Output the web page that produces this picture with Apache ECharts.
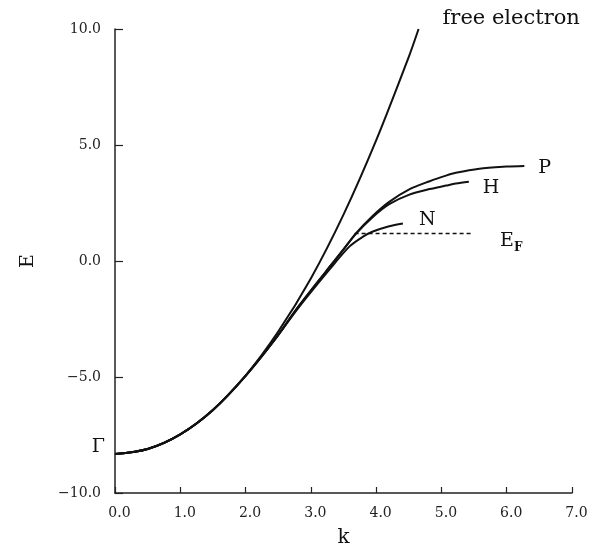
<!DOCTYPE html>
<html>
<head>
<meta charset="utf-8">
<script src="https://cdn.jsdelivr.net/npm/echarts@6/dist/echarts.min.js"></script>
<style>
  html, body { margin: 0; padding: 0; background: #fff; }
  #chart { width: 597px; height: 547px; }
</style>
</head>
<body>
<div id="chart"></div>
<script>
// Free-electron parabola E(k)
const freeK = [0, 0.5, 1.0, 1.5, 2.0, 2.5, 3.0, 3.5, 4.0, 4.5, 4.65];
const freeE = [-8.32, -8.1, -7.47, -6.42, -4.94, -3.04, -0.75, 2.0, 5.2, 8.8, 10.0];

// Band toward P
const pK = [0, 0.5, 1.0, 1.5, 2.0, 2.45, 2.8, 3.24, 3.5, 3.69, 3.95, 4.2, 4.5, 4.82, 5.07, 5.22, 5.58, 6.0, 6.27];
const pE = [-8.32, -8.1, -7.47, -6.42, -4.95, -3.38, -2.0, -0.42, 0.5, 1.19, 1.95, 2.55, 3.08, 3.44, 3.68, 3.8, 3.98, 4.07, 4.1];

// Band toward H
const hK = [0, 0.5, 1.0, 1.5, 2.0, 2.45, 2.8, 3.24, 3.5, 3.69, 3.95, 4.2, 4.5, 4.82, 5.07, 5.22, 5.42];
const hE = [-8.32, -8.1, -7.47, -6.42, -4.95, -3.38, -2.0, -0.42, 0.5, 1.17, 1.9, 2.45, 2.85, 3.1, 3.25, 3.34, 3.42];

// Band toward N
const nK = [0, 0.5, 1.0, 1.5, 2.0, 2.45, 2.8, 3.29, 3.59, 3.8, 3.95, 4.2, 4.41];
const nE = [-8.32, -8.1, -7.47, -6.42, -4.95, -3.38, -2.05, -0.35, 0.62, 1.05, 1.27, 1.5, 1.62];

// Fermi level
const fermiK = [3.67, 5.47];
const fermiE = [1.19, 1.19];

const xTicks = [0, 7, 1];   // min, max, interval
const yTicks = [-10, 10, 5];

const pairs = (ks, es) => ks.map((k, i) => [k, es[i]]);
const serif = 'DejaVu Serif';
const fmt = v => v.toFixed(1).replace('-', '\u2212');

const curve = (name, ks, es, label, offset, size) => ({
  name,
  type: 'line',
  data: pairs(ks, es),
  showSymbol: false,
  smooth: 0.3,
  lineStyle: { color: '#111', width: 2 },
  silent: true,
  endLabel: {
    show: true,
    formatter: label,
    fontFamily: serif,
    fontSize: size || 19,
    color: '#111',
    offset: offset
  }
});

const chart = echarts.init(document.getElementById('chart'));
const pSeries = curve('P', pK, pE, 'P', [6, 2]);
pSeries.markPoint = {
  symbol: 'circle',
  symbolSize: 0,
  data: [{ coord: [pK[0], pE[0]] }],
  label: {
    show: true,
    formatter: '\u0393',
    position: 'left',
    distance: 11,
    offset: [1, -7],
    fontFamily: serif,
    fontSize: 19,
    color: '#111'
  }
};

chart.setOption({
  animation: false,
  backgroundColor: '#fff',
  grid: { left: 115, right: 25, top: 29, bottom: 54, containLabel: false, outerBoundsMode: 'none' },
  xAxis: {
    type: 'value',
    min: xTicks[0], max: xTicks[1], interval: xTicks[2],
    name: 'k',
    nameLocation: 'middle',
    nameGap: 35,
    nameTextStyle: { fontFamily: serif, fontSize: 20, color: '#111' },
    axisLine: { show: true, onZero: false, lineStyle: { color: '#222', width: 1.5 } },
    axisTick: { show: true, inside: true, length: 6, lineStyle: { color: '#222', width: 1.2 } },
    axisLabel: { formatter: fmt, fontFamily: serif, fontSize: 14, color: '#222', margin: 13, padding: [0, 0, 0, 9] },
    splitLine: { show: false }
  },
  yAxis: {
    type: 'value',
    min: yTicks[0], max: yTicks[1], interval: yTicks[2],
    name: 'E',
    nameLocation: 'middle',
    nameGap: 77,
    nameRotate: 90,
    nameTextStyle: { fontFamily: serif, fontSize: 19, color: '#111' },
    axisLine: { show: true, onZero: false, lineStyle: { color: '#222', width: 1.5 } },
    axisTick: { show: true, inside: true, length: 8, lineStyle: { color: '#222', width: 1.2 } },
    axisLabel: { formatter: fmt, fontFamily: serif, fontSize: 14, color: '#222', margin: 14 },
    splitLine: { show: false }
  },
  series: [
    curve('free electron', freeK, freeE, 'free electron', [16, -10], 21),
    pSeries,
    curve('H', hK, hE, 'H', [6, 6]),
    curve('N', nK, nE, 'N', [8, -3]),
    {
      name: 'E_F',
      type: 'line',
      data: pairs(fermiK, fermiE),
      showSymbol: false,
      silent: true,
      lineStyle: { color: '#111', width: 1.5, type: [4, 3] },
      endLabel: {
        show: true,
        formatter: '{e|E}{f|F}',
        offset: [20, 8],
        rich: {
          e: { fontFamily: serif, fontSize: 19, color: '#111' },
          f: { fontFamily: serif, fontSize: 12, color: '#111', fontWeight: 'bold', padding: [12, 0, 0, 0] }
        }
      }
    }
  ]
});
</script>
</body>
</html>
